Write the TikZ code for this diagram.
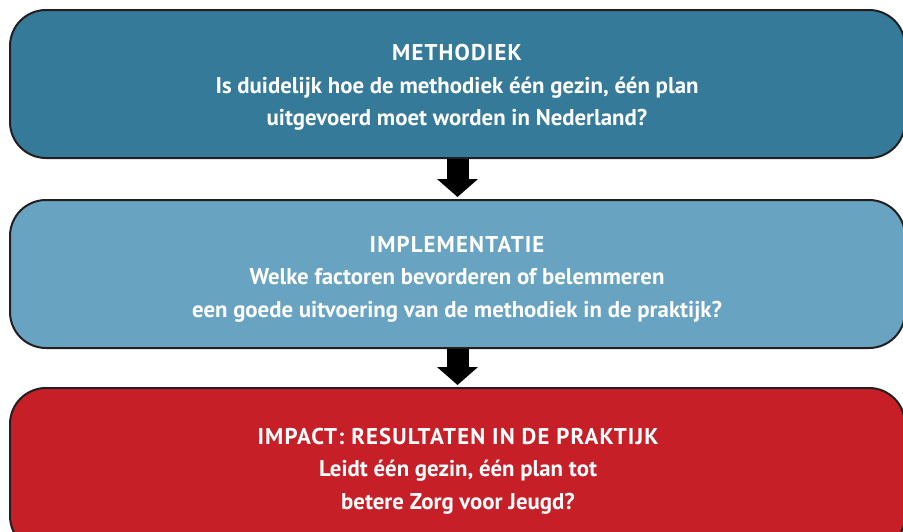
\documentclass[tikz,border=0pt]{standalone}
\usepackage{fontspec}
\setmainfont{PT Sans}
\newfontfamily\titlefont[LetterSpace=5]{PT Sans}
\usetikzlibrary{arrows.meta}
\definecolor{cMeth}{RGB}{53,122,153}
\definecolor{cImpl}{RGB}{104,163,193}
\definecolor{cImpa}{RGB}{199,31,40}
\definecolor{cEdge}{RGB}{35,31,32}
\newcommand{\stagetitle}[1]{{\titlefont\bfseries #1}}
\tikzset{
  stagebox/.style={draw=cEdge, line width=2pt, rounded corners=36pt, minimum width=895pt, inner sep=0pt},
  stagetext/.style={text=white, align=center, font=\fontsize{22.8pt}{32.5pt}\selectfont\bfseries, inner sep=0pt},
  flowarrow/.style={line width=22pt, black, -{Triangle[width=40pt,length=18pt]}, shorten >=2pt}
}
\begin{document}
\begin{tikzpicture}[x=1pt,y=-1pt]
\useasboundingbox (0,0) rectangle (903,531);
\clip (0,0) rectangle (903,531);
\node[stagebox, fill=cMeth, minimum height=148pt] (b1) at (457.5,84) {};
\node[stagebox, fill=cImpl, minimum height=148pt] (b2) at (457.5,274) {};
\node[stagebox, fill=cImpa, minimum height=164pt] (b3) at (457.5,470) {};
\draw[flowarrow] (b1.south) -- (b2.north);
\draw[flowarrow] (b2.south) -- (b3.north);
\node[stagetext] (t1) at (457,87.5) {\stagetitle{METHODIEK}\\Is duidelijk hoe de methodiek één gezin, één plan\\uitgevoerd moet worden in Nederland?};
\node[stagetext] (t2) at (457,279) {\stagetitle{IMPLEMENTATIE}\\Welke factoren bevorderen of belemmeren\\een goede uitvoering van de methodiek in de praktijk?};
\node[stagetext] (t3) at (458,471) {\stagetitle{IMPACT: RESULTATEN IN DE PRAKTIJK}\\Leidt één gezin, één plan tot\\betere Zorg voor Jeugd?};
\end{tikzpicture}
\end{document}
